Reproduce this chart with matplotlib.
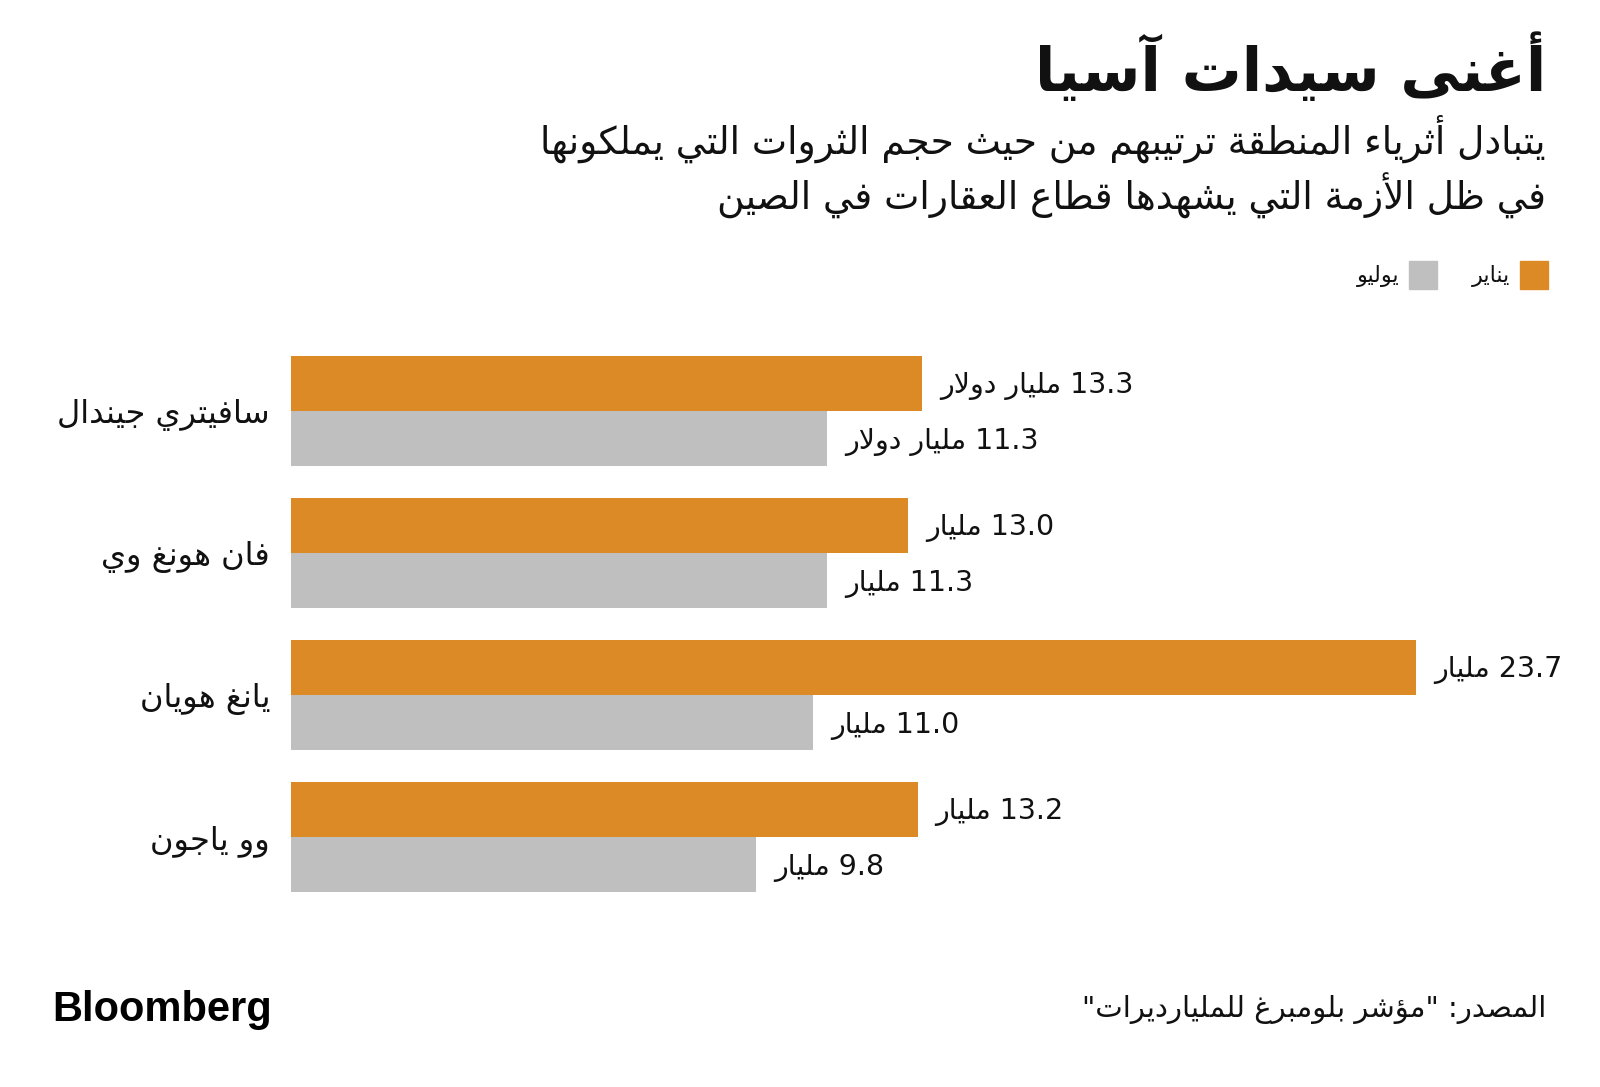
import re
import matplotlib
matplotlib.use("Agg")
import matplotlib.pyplot as plt
from matplotlib.patches import Rectangle

# البيانات
names = ["سافيتري جيندال", "فان هونغ وي", "يانغ هويان", "وو ياجون"]
jan_values = [13.3, 13.0, 23.7, 13.2]
jul_values = [11.3, 11.3, 11.0, 9.8]
jan_labels = ["13.3 مليار دولار", "13.0 مليار", "23.7 مليار", "13.2 مليار"]
jul_labels = ["11.3 مليار دولار", "11.3 مليار", "11.0 مليار", "9.8 مليار"]
legend_names = ["يناير", "يوليو"]

title = "أغنى سيدات آسيا"
subtitle = ["يتبادل أثرياء المنطقة ترتيبهم من حيث حجم الثروات التي يملكونها",
            "في ظل الأزمة التي يشهدها قطاع العقارات في الصين"]
source = 'المصدر: "مؤشر بلومبرغ للمليارديرات"'

ORANGE = "#DC8A26"
GRAY = "#BFBFBF"

W, H = 1600, 1087

# تشكيل الحروف العربية (matplotlib لا يربط الحروف)
_letters = "ءآأؤإئابةتثجحخدذرزسشصضطظعغفقكلمنهوىي"
_nforms = [1, 2, 2, 2, 2, 4, 2, 4, 2, 4, 4, 4, 4, 4, 2, 2, 2, 2,
           4, 4, 4, 4, 4, 4, 4, 4, 4, 4, 4, 4, 4, 4, 4, 2, 2, 4]
FORMS = {}
_code = 0xFE80
for _ch, _n in zip(_letters, _nforms):
    FORMS[_ch] = [chr(_code + k) for k in range(_n)]
    _code += _n
LAM_ALEF = {"آ": "\uFEF5\uFEF6", "أ": "\uFEF7\uFEF8",
            "إ": "\uFEF9\uFEFA", "ا": "\uFEFB\uFEFC"}


def _dual(c):
    return c in FORMS and len(FORMS[c]) == 4


def _joining(c):
    return c in FORMS and len(FORMS[c]) > 1


def ar(s):
    out = []
    prev = None
    i = 0
    while i < len(s):
        c = s[i]
        if c not in FORMS:
            out.append(c)
            prev = None
            i += 1
            continue
        linked = prev is not None and _dual(prev)
        if c == "ل" and i + 1 < len(s) and s[i + 1] in LAM_ALEF:
            out.append(LAM_ALEF[s[i + 1]][1 if linked else 0])
            prev = s[i + 1]
            i += 2
            continue
        nxt = s[i + 1] if i + 1 < len(s) else None
        to_next = _dual(c) and nxt is not None and _joining(nxt)
        f = FORMS[c]
        if len(f) == 1:
            g = f[0]
        elif linked and to_next:
            g = f[3]
        elif linked:
            g = f[1]
        elif to_next:
            g = f[2]
        else:
            g = f[0]
        out.append(g)
        prev = c
        i += 1
    vis = "".join(out)[::-1]
    # إعادة الأرقام إلى اتجاهها
    return re.sub(r"[0-9A-Za-z.]+", lambda m: m.group(0)[::-1], vis)


plt.rcParams["font.family"] = ["DejaVu Sans"]

fig = plt.figure(figsize=(W / 100, H / 100), dpi=100)


def ftext(x, y, s, **kw):
    fig.text(x / W, 1 - y / H, s, **kw)


# المحاور
px_per_unit = (1416 - 291) / 23.7
xmax = 26
bar_h = 55 / 142
top_px, bot_px = 356, 892
ax = fig.add_axes([291 / W, 1 - bot_px / H, xmax * px_per_unit / W, (bot_px - top_px) / H])
ax.set_xlim(0, xmax)
ax.set_ylim(len(names) - 1 + bar_h, -bar_h)
ax.axis("off")

ypos = list(range(len(names)))
ax.barh([y - bar_h / 2 for y in ypos], jan_values, height=bar_h, color=ORANGE)
ax.barh([y + bar_h / 2 for y in ypos], jul_values, height=bar_h, color=GRAY)

for y, v, lab in zip(ypos, jan_values, jan_labels):
    ax.annotate(ar(lab), (v, y - bar_h / 2), xytext=(18, -2), textcoords="offset pixels",
                ha="left", va="center", fontsize=20.5, color="#111111")
for y, v, lab in zip(ypos, jul_values, jul_labels):
    ax.annotate(ar(lab), (v, y + bar_h / 2), xytext=(18, -3), textcoords="offset pixels",
                ha="left", va="center", fontsize=20.5, color="#111111")
for y, name in zip(ypos, names):
    ax.annotate(ar(name), (0, y), xytext=(-21, -4), textcoords="offset pixels",
                ha="right", va="center", fontsize=23, color="#111111")

# العنوان
ftext(1546, 69, ar(title), ha="right", va="center", fontsize=43, fontweight="bold", color="#111111")
ftext(1546, 139, ar(subtitle[0]), ha="right", va="center", fontsize=27, color="#111111")
ftext(1546, 196, ar(subtitle[1]), ha="right", va="center", fontsize=27, color="#111111")

# وسيلة الإيضاح
for (sx, name, col) in [(1520, legend_names[0], ORANGE), (1409, legend_names[1], GRAY)]:
    fig.patches.append(Rectangle((sx / W, 1 - 289 / H), 28 / W, 28 / H,
                                 transform=fig.transFigure, color=col))
    ftext(sx - 10, 276, ar(name), ha="right", va="center", fontsize=16, color="#111111")

# المصدر والشعار
ftext(1546, 1009, ar(source), ha="right", va="center", fontsize=21, color="#111111")
ftext(52, 1010, "Bloomberg", ha="left", va="center", fontsize=30,
      fontweight="bold", family="Liberation Sans", color="#000000")

fig.savefig("out.png", dpi=100, facecolor="white")
